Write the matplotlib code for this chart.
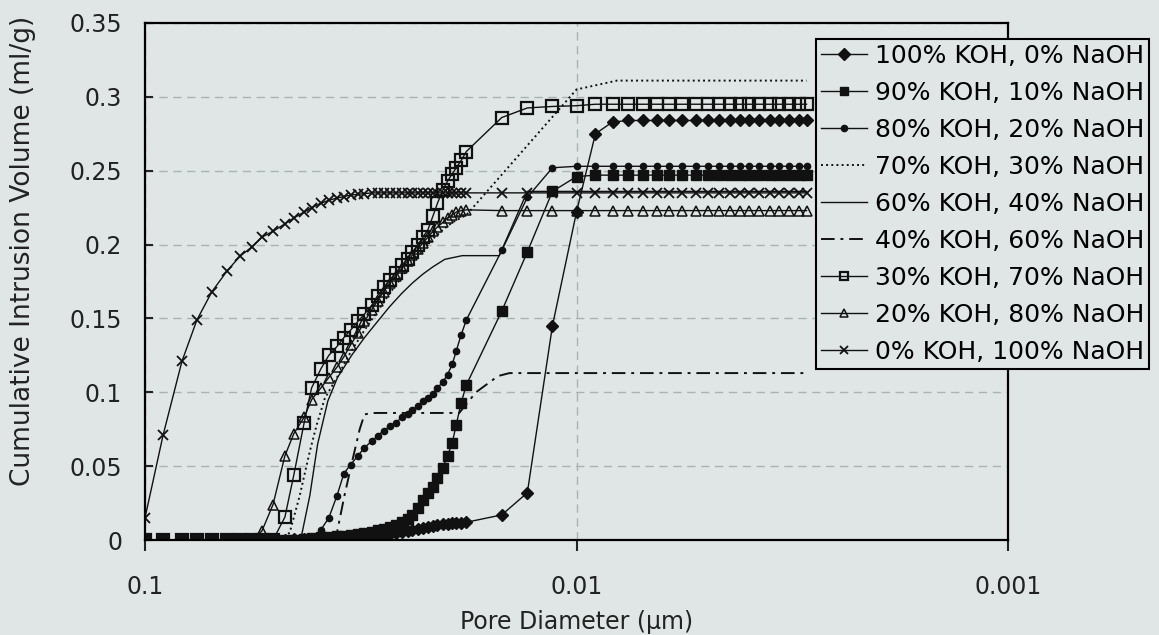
import matplotlib
matplotlib.use('Agg')
import matplotlib.pyplot as plt
from matplotlib.ticker import NullLocator

BG = '#dfe6e5'

# pore diameters (um) shared by the marker series: low-pressure run, then high-pressure run
diam = [0.1, 0.0908, 0.0821, 0.0758, 0.0700, 0.0646, 0.0603, 0.0565, 0.0536, 0.0505,
        0.0474, 0.0452, 0.0428, 0.0411, 0.0391, 0.0375, 0.0359, 0.0346, 0.0334, 0.0321,
        0.0310, 0.0298, 0.0289, 0.0280, 0.0271, 0.0262, 0.0254, 0.0246, 0.0240, 0.0233,
        0.0227, 0.0221, 0.0215, 0.0210, 0.0204, 0.0199, 0.0194, 0.0190, 0.0185, 0.0180,
        0.0149, 0.0130, 0.01137, 0.0100, 0.00904, 0.00825, 0.00758, 0.00700, 0.00650, 0.00609,
        0.00571, 0.00528, 0.00497, 0.00467, 0.00442, 0.00419, 0.00398, 0.00377, 0.00357, 0.00339,
        0.00321, 0.00305, 0.00293]

koh100 = [0, 0, 0, 0, 0, 0, 0, 0, 0, 0,
          0.0003, 0.0005, 0.0006, 0.0008, 0.0009, 0.001, 0.0012, 0.0014, 0.0016, 0.002,
          0.0023, 0.0027, 0.003, 0.0035, 0.004, 0.0048, 0.0055, 0.0062, 0.007, 0.0075,
          0.0082, 0.009, 0.0095, 0.01, 0.0105, 0.011, 0.0113, 0.0115, 0.0118, 0.012,
          0.017, 0.032, 0.145, 0.222, 0.275, 0.283, 0.284, 0.284, 0.284, 0.284,
          0.284, 0.284, 0.284, 0.284, 0.284, 0.284, 0.284, 0.284, 0.284, 0.284,
          0.284, 0.284, 0.284]

koh90 = [0, 0, 0, 0, 0, 0, 0, 0, 0, 0,
         0, 0, 0.001, 0.0013, 0.0017, 0.002, 0.0025, 0.003, 0.0035, 0.004,
         0.0047, 0.0055, 0.0065, 0.0075, 0.0088, 0.0103, 0.012, 0.0143, 0.017, 0.022,
         0.027, 0.032, 0.036, 0.042, 0.049, 0.057, 0.066, 0.078, 0.093, 0.105,
         0.155, 0.195, 0.236, 0.246, 0.247, 0.247, 0.247, 0.247, 0.247, 0.247,
         0.247, 0.247, 0.247, 0.247, 0.247, 0.247, 0.247, 0.247, 0.247, 0.247,
         0.247, 0.247, 0.247]

koh80 = [0, 0, 0, 0, 0, 0, 0, 0, 0, 0,
         0, 0, 0, 0, 0.007, 0.015, 0.03, 0.045, 0.051, 0.057,
         0.0625, 0.067, 0.0705, 0.074, 0.077, 0.0795, 0.083, 0.085, 0.088, 0.091,
         0.094, 0.096, 0.099, 0.103, 0.107, 0.112, 0.119, 0.128, 0.139, 0.149,
         0.196, 0.232, 0.252, 0.253, 0.253, 0.253, 0.253, 0.253, 0.253, 0.253,
         0.253, 0.253, 0.253, 0.253, 0.253, 0.253, 0.253, 0.253, 0.253, 0.253,
         0.253, 0.253, 0.253]

koh30 = [0, 0, 0, 0, 0, 0, 0, 0, 0, 0,
         0.0155, 0.044, 0.079, 0.103, 0.116, 0.125, 0.131, 0.137, 0.142, 0.148,
         0.153, 0.159, 0.1655, 0.171, 0.176, 0.181, 0.186, 0.1905, 0.195, 0.2,
         0.205, 0.21, 0.2195, 0.228, 0.237, 0.243, 0.248, 0.252, 0.257, 0.263,
         0.286, 0.2925, 0.2935, 0.294, 0.295, 0.295, 0.295, 0.295, 0.295, 0.295,
         0.295, 0.295, 0.295, 0.295, 0.295, 0.295, 0.295, 0.295, 0.295, 0.295,
         0.295, 0.295, 0.295]

koh20 = [0, 0, 0, 0, 0, 0, 0, 0, 0.006, 0.024,
         0.057, 0.072, 0.083, 0.095, 0.103, 0.11, 0.117, 0.124, 0.132, 0.14,
         0.148, 0.156, 0.162, 0.168, 0.174, 0.179, 0.184, 0.189, 0.193, 0.197,
         0.201, 0.205, 0.209, 0.212, 0.215, 0.218, 0.22, 0.222, 0.223, 0.2235,
         0.223, 0.223, 0.223, 0.223, 0.223, 0.223, 0.223, 0.223, 0.223, 0.223,
         0.223, 0.223, 0.223, 0.223, 0.223, 0.223, 0.223, 0.223, 0.223, 0.223,
         0.223, 0.223, 0.223]

koh0 = [0.015, 0.071, 0.121, 0.149, 0.168, 0.182, 0.192, 0.1985, 0.205, 0.209,
        0.214, 0.218, 0.222, 0.225, 0.228, 0.23, 0.2315, 0.2325, 0.2335, 0.234,
        0.2345, 0.235, 0.235, 0.235, 0.235, 0.235, 0.235, 0.235, 0.235, 0.235,
        0.235, 0.235, 0.235, 0.235, 0.235, 0.235, 0.235, 0.235, 0.235, 0.235,
        0.235, 0.235, 0.235, 0.235, 0.235, 0.235, 0.235, 0.235, 0.235, 0.235,
        0.235, 0.235, 0.235, 0.235, 0.235, 0.235, 0.235, 0.235, 0.235, 0.235,
        0.235, 0.235, 0.235]

# line-only series
diam70 = [0.0487, 0.0462, 0.0438, 0.0415, 0.0400, 0.0383, 0.0359, 0.0334, 0.0310, 0.0289,
          0.0271, 0.0254, 0.0240, 0.0227, 0.0215, 0.0204, 0.0194, 0.0180, 0.0100, 0.00806, 0.00293]
koh70 = [0, 0.005, 0.03, 0.06, 0.078, 0.096, 0.11, 0.127, 0.142, 0.155,
         0.167, 0.178, 0.188, 0.196, 0.204, 0.21, 0.215, 0.22, 0.305, 0.311, 0.311]

diam60 = [0.0462, 0.0433, 0.0415, 0.0398, 0.0377, 0.0358, 0.0332, 0.0310, 0.0289, 0.0271,
          0.0254, 0.0240, 0.0227, 0.0215, 0.0202, 0.0184, 0.0151, 0.0130, 0.00293]
koh60 = [0, 0.004, 0.03, 0.065, 0.094, 0.11, 0.125, 0.137, 0.148, 0.158,
         0.167, 0.174, 0.18, 0.185, 0.19, 0.1925, 0.1925, 0.236, 0.236]

diam40 = [0.0373, 0.0359, 0.0345, 0.0330, 0.0318, 0.0310, 0.0298, 0.0187, 0.0171, 0.0152, 0.0143, 0.00293]
koh40 = [0, 0.005, 0.03, 0.055, 0.075, 0.085, 0.086, 0.086, 0.1, 0.111, 0.113, 0.113]

labels = ['100% KOH, 0% NaOH', '90% KOH, 10% NaOH', '80% KOH, 20% NaOH',
          '70% KOH, 30% NaOH', '60% KOH, 40% NaOH', '40% KOH, 60% NaOH',
          '30% KOH, 70% NaOH', '20% KOH, 80% NaOH', '0% KOH, 100% NaOH']

fig = plt.figure(figsize=(11.59, 6.35), dpi=100, facecolor=BG)
ax = fig.add_axes([145 / 1159, 1 - 540 / 635, (1008 - 145) / 1159, (540 - 23) / 635])
ax.set_facecolor(BG)

k = '#111111'
ax.plot(diam, koh100, color=k, lw=1, marker='D', ms=6, label=labels[0])
ax.plot(diam, koh90, color=k, lw=1, marker='s', ms=7, label=labels[1])
ax.plot(diam, koh80, color=k, lw=1, marker='o', ms=4.5, label=labels[2])
ax.plot(diam70, koh70, color=k, lw=1.4, ls=':', label=labels[3])
ax.plot(diam60, koh60, color=k, lw=1, label=labels[4])
ax.plot(diam40, koh40, color=k, lw=1.4, dashes=(7, 3, 1.5, 3), label=labels[5])
ax.plot(diam, koh30, color=k, lw=1, marker='s', ms=9, mfc='none', mew=1.6, label=labels[6])
ax.plot(diam, koh20, color=k, lw=1, marker='^', ms=6.5, mfc='none', mew=1.1, label=labels[7])
ax.plot(diam, koh0, color=k, lw=1, marker='x', ms=7, mew=1.3, label=labels[8])

ax.set_xscale('log')
ax.set_xlim(0.1, 0.001)
ax.set_ylim(0, 0.35)
ax.set_xticks([0.1, 0.01, 0.001])
ax.set_xticklabels(['0.1', '0.01', '0.001'])
ax.xaxis.set_minor_locator(NullLocator())
yt = [0, 0.05, 0.1, 0.15, 0.2, 0.25, 0.3, 0.35]
ax.set_yticks(yt)
ax.set_yticklabels(['0', '0.05', '0.1', '0.15', '0.2', '0.25', '0.3', '0.35'])

ax.grid(True, color='#aab2b2', lw=1, dashes=(6, 4))
ax.set_axisbelow(True)
for s in ax.spines.values():
    s.set_linewidth(1.6)
ax.tick_params(axis='y', direction='in', length=6, width=1.5, labelsize=17, pad=16.5, colors='#222222')
ax.tick_params(axis='x', direction='out', length=8, width=1.5, labelsize=17, pad=17, colors='#222222')

ax.set_xlabel('Pore Diameter (\u00b5m)', fontsize=17, color='#222222', labelpad=8)
ax.set_ylabel('Cumulative Intrusion Volume (ml/g)', fontsize=19, color='#222222')
ax.yaxis.set_label_coords(-0.126, 0.56)

leg = ax.legend(loc='upper left', bbox_to_anchor=(816 / 1159, 1 - 39 / 635),
                bbox_transform=fig.transFigure, fontsize=18, frameon=True, fancybox=False,
                edgecolor='black', facecolor=BG, framealpha=1, numpoints=1,
                handlelength=1.85, handletextpad=0.3, borderpad=0.2, labelspacing=0.52,
                borderaxespad=0)
leg.get_frame().set_linewidth(1.5)
for h in leg.legend_handles:
    h.set_markersize(min(h.get_markersize(), 6))

fig.savefig('out.png', dpi=100, facecolor=BG)
